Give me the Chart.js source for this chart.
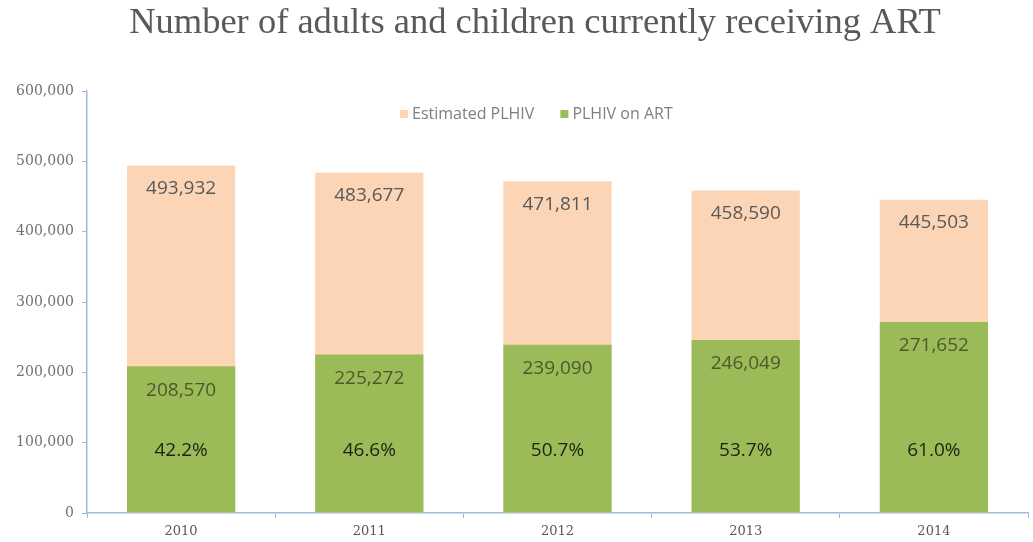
<!DOCTYPE html>
<html>
<head>
<meta charset="utf-8">
<script src="https://cdn.jsdelivr.net/npm/chart.js@4"></script>
<style>
  html, body { margin: 0; padding: 0; background: #fff; }
  #wrap { width: 1033px; height: 542px; }
</style>
</head>
<body>
<div id="wrap"><canvas id="artChart" width="1033" height="542"></canvas></div>
<script>
const years = ["2010", "2011", "2012", "2013", "2014"];
const estimatedPlhiv = [493932, 483677, 471811, 458590, 445503];
const plhivOnArt = [208570, 225272, 239090, 246049, 271652];
const coverageLabels = ["42.2%", "46.6%", "50.7%", "53.7%", "61.0%"];
const yTicks = [0, 100000, 200000, 300000, 400000, 500000, 600000];
const chartTitle = "Number of adults and children currently receiving ART";

const peach = "#fbd5b5";
const green = "#9bbb59";
const axisBlue = "#9db9e0";

// title, value labels inside the bars and the legend inside the plot
const labelPlugin = {
    id: "barLabels",
    afterDatasetsDraw(chart) {
        const ctx = chart.ctx;
        const y = chart.scales.y;
        ctx.save();

        ctx.textAlign = "center";
        ctx.textBaseline = "alphabetic";
        ctx.fillStyle = "#595959";
        ctx.font = "36.5px 'Liberation Serif'";
        ctx.fillText(chartTitle, 535, 33);

        ctx.textBaseline = "middle";
        ctx.font = "19px 'Open Sans'";
        chart.getDatasetMeta(0).data.forEach((bar, i) => {
            ctx.fillStyle = "#595959";
            ctx.fillText(estimatedPlhiv[i].toLocaleString("en-US"), bar.x, bar.y + 23);
        });
        chart.getDatasetMeta(1).data.forEach((bar, i) => {
            ctx.fillStyle = "#4a5a2c";
            ctx.fillText(plhivOnArt[i].toLocaleString("en-US"), bar.x, bar.y + 24);
            ctx.fillStyle = "#1c2410";
            ctx.fillText(coverageLabels[i], bar.x, y.getPixelForValue(89000));
        });

        // legend
        ctx.font = "16px 'Open Sans'";
        ctx.textAlign = "left";
        const legendY = 114;
        let lx = 400;
        chart.data.datasets.forEach(ds => {
            ctx.fillStyle = ds.backgroundColor;
            ctx.fillRect(lx, legendY - 4, 8, 8);
            ctx.fillStyle = "#7f7f7f";
            ctx.fillText(ds.label, lx + 12, legendY);
            lx += 12 + ctx.measureText(ds.label).width + 26;
        });
        ctx.restore();
    }
};

new Chart(document.getElementById("artChart"), {
    type: "bar",
    data: {
        labels: years,
        datasets: [
            {
                label: "Estimated PLHIV",
                data: estimatedPlhiv,
                backgroundColor: peach,
                order: 1
            },
            {
                label: "PLHIV on ART",
                data: plhivOnArt,
                backgroundColor: green,
                order: 0
            }
        ]
    },
    options: {
        responsive: false,
        animation: false,
        layout: { padding: { top: 91, left: 0, right: 5, bottom: 0 } },
        datasets: {
            bar: {
                grouped: false,
                categoryPercentage: 1,
                barPercentage: 0.575
            }
        },
        plugins: {
            legend: { display: false },
            tooltip: { enabled: false },
            title: { display: false }
        },
        scales: {
            x: {
                afterFit(scale) { scale.height = 29; },
                grid: {
                    offset: true,
                    drawOnChartArea: false,
                    color: axisBlue,
                    tickLength: 5
                },
                border: { color: axisBlue, width: 1.5 },
                ticks: {
                    color: "#595959",
                    font: { family: "'DejaVu Serif'", size: 13 },
                    padding: 6
                }
            },
            y: {
                min: 0,
                max: 600000,
                afterFit(scale) { scale.width = 87; },
                afterBuildTicks(scale) { scale.ticks = yTicks.map(v => ({ value: v })); },
                grid: {
                    drawOnChartArea: false,
                    color: axisBlue,
                    tickLength: 5
                },
                border: { color: axisBlue, width: 1.5 },
                ticks: {
                    color: "#707070",
                    font: { family: "'DejaVu Serif'", size: 14 },
                    padding: 8,
                    callback: v => v.toLocaleString("en-US")
                }
            }
        }
    },
    plugins: [labelPlugin]
});
</script>
</body>
</html>
